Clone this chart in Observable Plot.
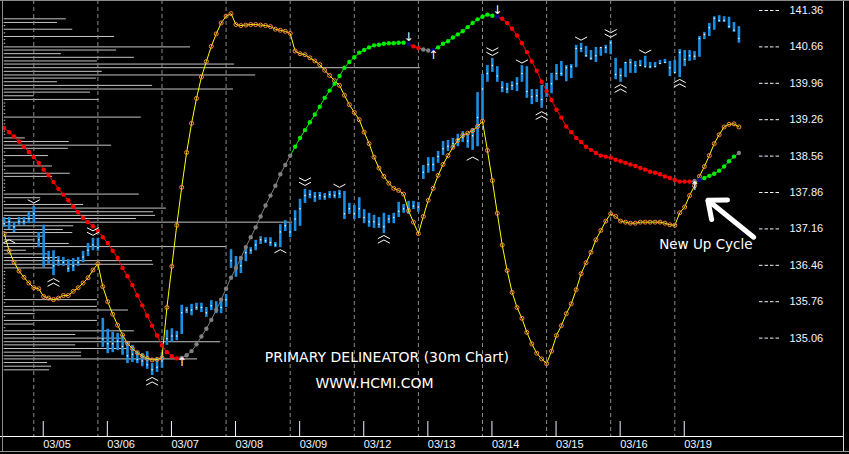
<!DOCTYPE html>
<html><head><meta charset="utf-8">
<script src="https://cdn.jsdelivr.net/npm/d3@7"></script>
<script src="https://cdn.jsdelivr.net/npm/@observablehq/plot@0.6"></script>
<style>
html,body{margin:0;padding:0;background:#000;}
#chart{width:849px;height:454px;overflow:hidden;}
</style></head><body><div id="chart"></div>
<script>
// ---- price bars (30m), bar index 0..149 ----
const high = [
137.38,137.38,137.28,137.38,137.38,137.48,137.59,137.09,137.23,136.73,
136.74,136.63,136.61,136.57,136.59,136.61,136.73,136.88,136.98,136.98,
135.44,135.23,135.17,135.15,135.11,134.98,134.92,134.80,134.76,134.80,
134.57,134.67,134.78,135.21,135.24,135.19,135.69,135.65,135.71,135.73,
135.73,135.65,135.78,135.76,135.82,135.90,136.76,136.63,136.59,136.82,
136.80,136.94,137.01,136.99,136.99,136.90,137.24,137.32,137.26,137.51,
137.73,137.92,137.90,137.86,137.86,137.84,137.88,137.88,137.90,137.88,
137.65,137.61,137.76,137.53,137.46,137.42,137.38,137.46,137.42,137.46,
137.67,137.63,137.69,137.69,137.67,138.38,138.53,138.53,138.65,138.84,
138.86,138.90,138.98,139.03,138.98,139.09,139.78,140.13,140.30,140.44,
140.28,139.99,139.96,139.99,140.07,140.30,140.28,139.84,139.84,139.92,
139.96,140.15,140.32,140.38,140.30,140.32,140.69,140.73,140.67,140.59,
140.65,140.65,140.69,140.78,140.44,140.24,140.36,140.42,140.38,140.40,
140.48,140.36,140.36,140.40,140.42,140.38,140.40,140.61,140.59,140.59,
140.57,140.86,140.94,141.11,141.24,141.26,141.24,141.23,141.13,141.05];
const low = [
137.19,137.15,137.09,137.23,137.23,137.26,137.26,136.80,136.42,136.48,
136.26,136.44,136.44,136.32,136.34,136.44,136.51,136.63,136.74,136.73,
134.88,134.76,134.78,134.82,134.73,134.57,134.59,134.57,134.51,134.46,
134.34,134.40,134.48,134.92,134.98,135.01,135.13,135.53,135.49,135.59,
135.55,135.46,135.59,135.53,135.53,135.65,136.40,136.23,136.30,136.53,
136.67,136.74,136.86,136.88,136.82,136.80,136.80,137.11,136.99,137.11,
137.21,137.65,137.74,137.67,137.71,137.71,137.74,137.74,137.74,137.34,
137.44,137.34,137.36,137.26,137.19,137.17,137.17,137.07,137.26,137.26,
137.38,137.46,137.44,137.53,137.48,138.11,138.23,138.26,138.42,138.57,
138.65,138.71,138.74,138.82,138.71,138.67,138.74,139.24,139.98,140.17,
139.98,139.78,139.76,139.82,139.80,139.98,139.67,139.55,139.59,139.48,
139.69,139.76,140.01,140.09,139.99,140.05,140.26,140.55,140.46,140.40,
140.36,140.48,140.53,140.51,140.03,139.98,140.07,140.15,140.15,140.28,
140.26,140.24,140.26,140.32,140.34,140.09,140.15,140.07,140.28,140.38,
140.40,140.46,140.80,140.86,140.98,141.13,141.13,141.01,140.94,140.73];
const close = [
137.26,137.30,137.20,137.30,137.30,137.36,137.45,136.95,136.60,136.60,
136.45,136.55,136.52,136.40,136.45,136.52,136.62,136.75,136.85,136.80,
135.05,134.95,134.95,135.00,134.90,134.72,134.75,134.65,134.62,134.55,
134.45,134.50,134.62,135.05,135.10,135.10,135.55,135.60,135.60,135.65,
135.65,135.55,135.68,135.62,135.65,135.80,136.55,136.40,136.45,136.70,
136.75,136.85,136.95,136.93,136.90,136.85,137.10,137.22,137.10,137.35,
137.55,137.80,137.82,137.78,137.80,137.78,137.82,137.80,137.84,137.45,
137.55,137.45,137.55,137.38,137.30,137.30,137.25,137.20,137.35,137.38,
137.50,137.55,137.55,137.60,137.58,138.25,138.40,138.40,138.55,138.70,
138.75,138.80,138.88,138.92,138.85,138.95,139.30,139.85,140.15,140.30,
140.10,139.88,139.85,139.92,139.95,140.15,139.80,139.70,139.72,139.65,
139.82,139.95,140.15,140.15,140.26,140.28,140.63,140.63,140.49,140.44,
140.49,140.65,140.65,140.74,140.13,140.11,140.36,140.36,140.30,140.30,
140.28,140.28,140.28,140.34,140.36,140.26,140.17,140.55,140.42,140.49,
140.48,140.82,140.90,141.03,141.21,141.17,141.17,141.05,140.98,140.82];
// ---- oscillator (yellow line, orange circles), read in price units ----
const osc = [
137.07,136.74,136.52,136.35,136.23,136.12,136.03,136.01,135.86,135.83,
135.80,135.83,135.88,135.88,135.96,136.03,136.12,136.22,136.37,136.49,
136.05,135.76,135.52,135.31,135.12,134.96,134.86,134.78,134.72,134.67,
134.64,134.65,134.68,135.65,136.44,137.23,137.96,138.63,139.19,139.67,
140.08,140.38,140.67,140.91,141.12,141.25,141.30,141.09,141.07,141.08,
141.09,141.09,141.08,141.07,141.05,141.00,140.98,140.96,140.92,140.58,
140.53,140.51,140.45,140.39,140.32,140.21,140.11,140.01,139.92,139.73,
139.55,139.40,139.26,139.02,138.80,138.54,138.33,138.17,138.04,137.94,
137.90,137.83,137.51,137.29,137.07,137.40,137.71,137.94,138.19,138.40,
138.57,138.73,138.86,138.96,139.00,139.05,139.13,139.23,138.67,138.09,
137.46,136.85,136.36,135.94,135.65,135.44,135.17,134.95,134.77,134.66,
134.57,134.81,135.11,135.30,135.53,135.72,135.99,136.30,136.51,136.71,
136.95,137.13,137.31,137.45,137.40,137.31,137.29,137.27,137.27,137.29,
137.29,137.29,137.29,137.29,137.27,137.24,137.23,137.47,137.58,137.80,
137.99,138.17,138.36,138.57,138.80,138.97,139.12,139.17,139.18,139.12];
// ---- primary delineator ----
const delin = [
139.10,139.02,138.94,138.84,138.74,138.64,138.54,138.43,138.30,138.19,
138.06,137.93,137.82,137.71,137.59,137.48,137.37,137.29,137.21,137.12,
137.00,136.89,136.74,136.60,136.41,136.25,136.08,135.88,135.69,135.49,
135.30,135.11,134.92,134.79,134.71,134.67,134.68,134.73,134.81,134.94,
135.09,135.24,135.41,135.60,135.80,136.01,136.22,136.41,136.60,136.81,
137.00,137.19,137.40,137.61,137.80,137.99,138.21,138.39,138.57,138.74,
138.91,139.06,139.21,139.36,139.51,139.68,139.82,139.95,140.10,140.26,
140.37,140.46,140.55,140.60,140.65,140.69,140.70,140.72,140.73,140.73,
140.74,140.74,140.72,140.67,140.64,140.61,140.59,140.60,140.65,140.72,
140.77,140.84,140.90,140.96,141.04,141.12,141.19,141.24,141.28,141.26,
141.24,141.20,141.12,141.01,140.88,140.73,140.56,140.38,140.20,139.99,
139.81,139.64,139.45,139.30,139.13,139.02,138.91,138.83,138.74,138.68,
138.62,138.57,138.55,138.53,138.49,138.46,138.43,138.40,138.37,138.33,
138.30,138.26,138.24,138.21,138.17,138.14,138.10,138.07,138.07,138.07,
138.08,138.10,138.14,138.18,138.22,138.28,138.36,138.46,138.55,138.62];
const delinRuns = [["red",36],["gray",23],["green",23],["navy",1],["red",2],["gray",2],["navy",1],
  ["green",12],["navy",1],["red",39],["gray",1],["navy",1],["green",7],["gray",1]];
// ---- volume-at-price profile (left) ----
const profilePrice = [
141.20,141.13,141.07,141.00,140.93,140.86,140.80,140.73,140.66,140.60,
140.53,140.46,140.39,140.33,140.26,140.19,140.12,140.06,139.99,139.92,
139.85,139.79,139.72,139.65,139.58,139.52,139.45,139.38,139.31,139.25,
139.18,139.11,139.04,138.98,138.91,138.84,138.77,138.71,138.64,138.57,
138.50,138.44,138.37,138.30,138.23,138.17,138.10,138.03,137.96,137.90,
137.83,137.76,137.69,137.63,137.56,137.49,137.42,137.36,137.29,137.22,
137.15,137.09,137.02,136.95,136.88,136.82,136.75,136.68,136.61,136.55,
136.48,136.41,136.34,136.28,136.21,136.14,136.07,136.01,135.94,135.87,
135.80,135.74,135.67,135.60,135.53,135.47,135.40,135.33,135.26,135.20,
135.13,135.06,134.99,134.93,134.86,134.79,134.72,134.66,134.59,134.52,134.45];
const profileLen = [
12.6,10.8,0.3,13.9,0.3,22.4,0.3,0.3,37.8,22.8,
11.6,26.4,18.9,46.7,84.4,19.9,51.0,18.7,10.8,30.1,
46.5,17.5,6.1,19.3,0.3,0.3,0.3,0.3,27.8,0.3,
0.3,0.3,0.3,0.3,4.3,13.2,21.8,13.0,0.3,9.0,
0.3,0.3,9.8,0.3,13.4,9.8,0.3,0.3,0.3,0.3,
27.4,7.4,0.3,16.1,32.9,30.3,30.7,26.8,58.5,14.1,
12.0,13.9,8.4,6.3,13.2,45.1,4.5,8.8,10.8,30.1,
30.3,10.0,0.3,0.3,0.3,0.3,0.3,0.3,0.3,0.3,
18.9,0.3,18.9,25.2,6.3,0.3,18.9,6.1,0.3,26.4,
14.5,24.2,43.9,14.5,25.2,15.7,15.7,39.2,8.8,9.6,9.2];
// ---- sessions / axes ----
const dayEnds = [6,19,32,45,58,71,84,97,110,123,136];
const dayLabels = ["03/05","03/06","03/07","03/08","03/09","03/12","03/13","03/14","03/15","03/16","03/19"];
const yTicks = [141.36,140.66,139.96,139.26,138.56,137.86,137.16,136.46,135.76,135.06];
// ---- swing chevrons & turn arrows ----
const chevrons = [
 {i:1,price:136.92,dir:"up",n:1},{i:6,price:137.69,dir:"down",n:1},{i:10,price:136.13,dir:"up",n:2},
 {i:18,price:137.11,dir:"down",n:2},{i:30,price:134.23,dir:"up",n:2},{i:56,price:136.73,dir:"up",n:1},
 {i:61,price:138.07,dir:"down",n:2},{i:68,price:137.99,dir:"down",n:1},{i:77,price:136.96,dir:"up",n:2},
 {i:95,price:138.51,dir:"up",n:1},{i:99,price:140.57,dir:"down",n:2},{i:105,price:140.38,dir:"down",n:1},
 {i:109,price:139.34,dir:"up",n:2},{i:117,price:140.82,dir:"down",n:1},{i:123,price:140.92,dir:"down",n:2},
 {i:125,price:139.86,dir:"up",n:2},{i:130,price:140.57,dir:"down",n:1},{i:137,price:139.96,dir:"up",n:2}];
const turnArrows = [
 {i:36,price:134.59,glyph:"↑"},{i:82,price:140.84,glyph:"↓"},{i:87,price:140.51,glyph:"↑"},
 {i:100,price:141.36,glyph:"↓"},{i:140,price:137.98,glyph:"↑"}];
const titleNotes = [
 {i:77.6,price:134.69,text:"PRIMARY DELINEATOR (30m Chart)"},
 {i:75.1,price:134.19,text:"WWW.HCMI.COM"}];
const cycleNote = [{i:142.3,price:136.86,text:"New Up Cycle"}];
const cycleArrow = [{i1:152.0,p1:137.00,i2:142.7,p2:137.71}];

// ---- derived tables ----
const idx = d3.range(high.length);
const palette = {red:"#ff0000", gray:"#808080", green:"#00ee00", navy:"#000080"};
const delinColor = delinRuns.flatMap(([c,n]) => Array(n).fill(palette[c]));
const profile = profilePrice.map((p,k) => ({price:p, len:profileLen[k]}));
const sepIdx = dayEnds.map(d => d + 0.7);
const labelMap = new Map(sepIdx.map((s,k) => [s, dayLabels[k]]));

function chevronSymbol(dir, n) {
  const s = dir === "down" ? 1 : -1;
  return {draw(ctx) {
    for (let k = 0; k < n; k++) {
      const o = (k - (n - 1) / 2) * 4.5;
      ctx.moveTo(-6, o - 1.6 * s);
      ctx.lineTo(0, o + 1.6 * s);
      ctx.lineTo(6, o - 1.6 * s);
    }
  }};
}
const chevMarks = [["down",1],["down",2],["up",1],["up",2]].map(([d,n]) =>
  Plot.dot(chevrons.filter(c => c.dir === d && c.n === n),
    {x:"i", y:"price", symbol: chevronSymbol(d,n), r: 4, fill:"none", stroke:"white", strokeWidth:1}));

const chart = Plot.plot({
  width: 849, height: 454,
  marginLeft: 0, marginTop: 0, marginBottom: 18, marginRight: 91,
  style: {background:"#000", color:"#fff", fontFamily:"'Liberation Sans', Arial, sans-serif", fontSize:"11px", overflow:"visible"},
  x: {domain:[0,149], range:[3.7,738.4]},
  y: {domain:[133.168,141.533], range:[436,1]},
  marks: [
    Plot.ruleY(profile, {y:"price", x1:0, x2:"len", stroke:"#c4c4c4", strokeWidth:1}),
    Plot.ruleX(dayEnds, {x:d=>d, stroke:"#8a8a8a", strokeDasharray:"4,3"}),
    Plot.ruleX(idx, {x:i=>i, y1:i=>low[i], y2:i=>high[i], stroke:"#1a8fe3", strokeWidth:2.6}),
    Plot.dot(idx, {x:i=>i, y:i=>close[i], r:0.75, fill:"white"}),
    Plot.line(idx, {x:i=>i, y:i=>osc[i], stroke:"#ffff00", strokeWidth:1}),
    Plot.dot(idx, {x:i=>i, y:i=>osc[i], r:2, fill:"none", stroke:"#ff8a3a", strokeWidth:1}),
    Plot.link(idx.slice(0,-1), {x1:i=>i, y1:i=>delin[i], x2:i=>i+1, y2:i=>delin[i+1], stroke:i=>delinColor[i+1], strokeWidth:1}),
    Plot.dot(idx, {x:i=>i, y:i=>delin[i], r:2.2, fill:i=>delinColor[i]}),
    ...chevMarks,
    Plot.text(turnArrows, {x:"i", y:"price", text:"glyph", fill:"white", fontSize:12, fontFamily:"DejaVu Sans"}),
    Plot.text(titleNotes, {x:"i", y:"price", text:"text", fill:"white", fontSize:14, fontFamily:"DejaVu Sans"}),
    Plot.text(cycleNote, {x:"i", y:"price", text:"text", fill:"white", fontSize:13.5, fontFamily:"DejaVu Sans"}),
    Plot.arrow(cycleArrow, {x1:"i1", y1:"p1", x2:"i2", y2:"p2", stroke:"white", strokeWidth:5, headLength:15, headAngle:80}),
    Plot.axisY(yTicks, {anchor:"right", tickSize:20, tickPadding:11, tickFormat:d=>d.toFixed(2), color:"#f2f4ff", strokeDasharray:"3.5,2", fontSize:11}),
    Plot.axisX(sepIdx, {anchor:"bottom", tickSize:16, tickPadding:3, dy:-15, dx:6, textAnchor:"start", tickFormat:d=>labelMap.get(d), color:"#f2f4ff", fontSize:11})
  ]
});
document.getElementById("chart").appendChild(chart);

// frame decoration
const svg = d3.select(chart);
const deco = [
  {x1:0,y1:436.5,x2:843,y2:436.5,c:"#ffffff"},
  {x1:843.5,y1:0,x2:843.5,y2:452,c:"#d8d8d8"},
  {x1:0,y1:451.5,x2:849,y2:451.5,c:"#9a9a9a"},
  {x1:2.5,y1:0,x2:2.5,y2:452,c:"#8a8a8a"},
  {x1:0,y1:0.5,x2:849,y2:0.5,c:"#8a8a8a"}
];
svg.append("g").selectAll("line").data(deco).join("line")
  .attr("x1",d=>d.x1).attr("y1",d=>d.y1).attr("x2",d=>d.x2).attr("y2",d=>d.y2)
  .attr("stroke",d=>d.c).attr("stroke-width",1);
</script></body></html>
